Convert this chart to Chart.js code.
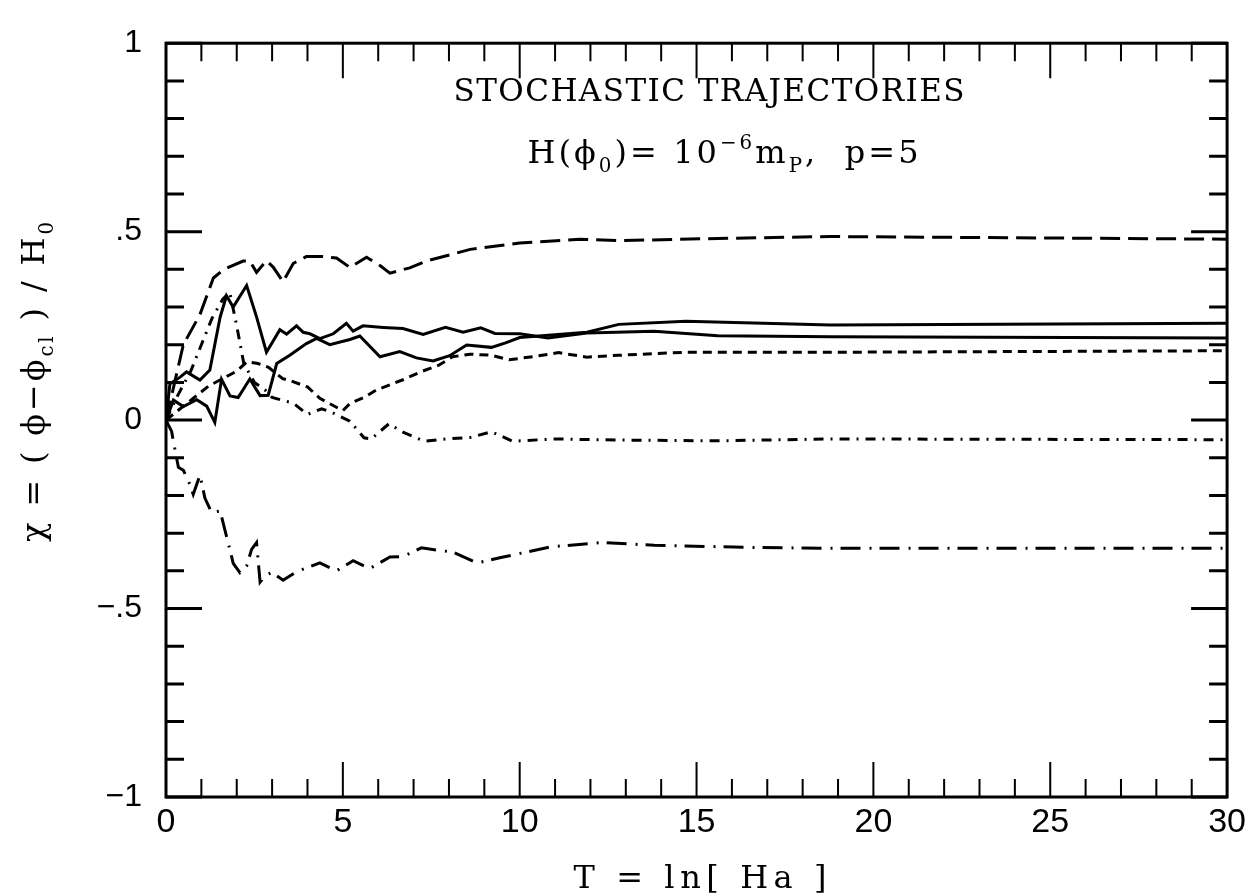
<!DOCTYPE html>
<html>
<head>
<meta charset="utf-8">
<script src="https://cdn.jsdelivr.net/npm/chart.js@4.4.1/dist/chart.umd.min.js"></script>
<style>
  html, body { margin: 0; padding: 0; background: #fff; }
  #wrap { width: 1251px; height: 895px; }
</style>
</head>
<body>
<div id="wrap"><canvas id="trajChart" width="1251" height="895"></canvas></div>
<script>
// T = ln[Ha] samples and chi values, one pair of arrays per trajectory

// long dashed (top)
const tLongDash = [0, 0.49, 0.96, 1.34, 1.62, 2.18, 2.37, 2.56, 2.84, 3.03, 3.31, 3.6, 3.97, 4.44, 4.82, 5.2, 5.67, 6.05, 6.33, 6.89, 7.36, 7.93, 8.6, 10.0, 11.7, 12.8, 15.6, 18.8, 30];
const chiLongDash = [0, 0.2, 0.28, 0.377, 0.399, 0.422, 0.422, 0.392, 0.423, 0.406, 0.367, 0.416, 0.434, 0.434, 0.43, 0.405, 0.432, 0.41, 0.39, 0.404, 0.422, 0.436, 0.453, 0.47, 0.48, 0.476, 0.482, 0.487, 0.48];

// solid, the one with the big early peak
const tSolidA = [0, 0.11, 0.4, 0.58, 0.96, 1.24, 1.53, 1.71, 1.9, 2.28, 2.56, 2.84, 3.22, 3.41, 3.69, 3.88, 4.07, 4.35, 4.73, 5.1, 5.29, 5.57, 6.14, 6.7, 7.27, 7.9, 8.4, 8.9, 9.3, 10.0, 10.8, 11.9, 13.8, 15.6, 18.8, 30];
const chiSolidA = [0, 0.096, 0.114, 0.128, 0.106, 0.133, 0.273, 0.33, 0.3, 0.357, 0.274, 0.18, 0.24, 0.228, 0.25, 0.233, 0.229, 0.216, 0.229, 0.257, 0.236, 0.25, 0.246, 0.243, 0.227, 0.246, 0.233, 0.245, 0.23, 0.229, 0.218, 0.231, 0.236, 0.224, 0.221, 0.218];

// solid, the one starting low
const tSolidB = [0, 0.21, 0.49, 0.87, 1.15, 1.38, 1.57, 1.81, 2.04, 2.37, 2.66, 2.89, 3.13, 3.5, 3.97, 4.26, 4.63, 5.2, 5.48, 6.05, 6.61, 7.08, 7.55, 8.02, 8.5, 9.2, 9.6, 10.0, 10.9, 11.9, 12.8, 14.7, 18.8, 30];
const chiSolidB = [0, 0.053, 0.036, 0.054, 0.037, -0.006, 0.108, 0.064, 0.06, 0.109, 0.065, 0.066, 0.15, 0.172, 0.203, 0.217, 0.2, 0.214, 0.223, 0.168, 0.182, 0.165, 0.157, 0.171, 0.199, 0.193, 0.205, 0.219, 0.226, 0.233, 0.254, 0.262, 0.252, 0.257];

// short dashed
const tShortDash = [0, 0.4, 0.8, 1.2, 1.6, 2.0, 2.3, 2.6, 2.9, 3.3, 3.5, 4.0, 4.35, 4.7, 5.0, 5.2, 5.6, 5.95, 6.7, 7.2, 7.7, 8.1, 8.6, 9.2, 9.7, 10.5, 11.1, 11.9, 12.8, 14.7, 18.8, 30];
const chiShortDash = [0, 0.03, 0.06, 0.09, 0.11, 0.13, 0.155, 0.15, 0.14, 0.11, 0.105, 0.088, 0.058, 0.04, 0.025, 0.044, 0.06, 0.08, 0.107, 0.128, 0.145, 0.168, 0.175, 0.172, 0.16, 0.17, 0.179, 0.167, 0.172, 0.18, 0.18, 0.184];

// dash-dot, ends just below zero
const tDashDot = [0, 0.3, 0.7, 1.0, 1.3, 1.6, 1.8, 2.0, 2.2, 2.5, 2.8, 3.0, 3.6, 4.0, 4.4, 4.7, 5.2, 5.6, 5.8, 6.3, 6.7, 7.3, 7.9, 8.6, 9.2, 9.8, 11.0, 12.8, 15.6, 18.8, 30];
const chiDashDot = [0, 0.06, 0.13, 0.2, 0.27, 0.32, 0.34, 0.25, 0.15, 0.1, 0.08, 0.06, 0.045, 0.015, 0.03, 0.02, -0.003, -0.047, -0.05, -0.01, -0.032, -0.056, -0.05, -0.046, -0.031, -0.056, -0.05, -0.053, -0.055, -0.05, -0.052];

// long dash-dot (bottom)
const tLongDashDot = [0, 0.16, 0.2, 0.35, 0.49, 0.68, 0.77, 0.96, 1.1, 1.29, 1.53, 1.67, 1.81, 1.9, 2.09, 2.28, 2.42, 2.56, 2.66, 2.8, 2.99, 3.31, 3.69, 4.35, 4.82, 5.29, 5.76, 6.33, 6.7, 7.22, 7.83, 8.1, 8.8, 9.5, 10.9, 12.3, 13.8, 16.6, 18.8, 30];
const chiLongDashDot = [0, -0.03, -0.052, -0.125, -0.133, -0.172, -0.197, -0.146, -0.207, -0.245, -0.241, -0.293, -0.345, -0.38, -0.405, -0.387, -0.343, -0.325, -0.43, -0.413, -0.404, -0.425, -0.402, -0.379, -0.4, -0.373, -0.394, -0.363, -0.362, -0.339, -0.347, -0.35, -0.379, -0.364, -0.336, -0.325, -0.332, -0.338, -0.34, -0.34];

const xMajor = [0, 5, 10, 15, 20, 25, 30];
const xTickLabels = ['0', '5', '10', '15', '20', '25', '30'];
const yMajor = [1, 0.5, 0, -0.5, -1];
const yTickLabels = ['1', '.5', '0', '\u2212.5', '\u22121'];

const SERIF = '"DejaVu Serif", serif';
const SANS = '"Liberation Sans", Arial, sans-serif';

function pairs(ts, vs) {
  return ts.map((t, i) => ({ x: t, y: vs[i] }));
}

function isMajor(list, v) {
  return list.some(m => Math.abs(m - v) < 1e-6);
}

// draws a string made of [text, kind] pieces (kind 0 normal, 1 subscript, 2 superscript),
// spread out so it covers `target` pixels, centred on cx
function drawRich(ctx, segs, cx, baseY, target, size) {
  const chars = [];
  segs.forEach(([text, kind]) => {
    const fs = kind ? size * 0.62 : size;
    const dy = kind === 1 ? size * 0.28 : kind === 2 ? -size * 0.45 : 0;
    for (const ch of text) chars.push({ ch, fs, dy });
  });
  let natural = 0;
  chars.forEach(c => {
    ctx.font = c.fs + 'px ' + SERIF;
    c.w = ctx.measureText(c.ch).width;
    natural += c.w;
  });
  const extra = target ? (target - natural) / (chars.length - 1) : 0;
  let x = cx - (natural + extra * (chars.length - 1)) / 2;
  chars.forEach(c => {
    ctx.font = c.fs + 'px ' + SERIF;
    ctx.fillText(c.ch, x, baseY + c.dy);
    x += c.w + extra;
  });
}

// box round the plot with ticks pointing inwards on all four sides
const frameTicks = {
  id: 'frameTicks',
  afterDatasetsDraw(chart) {
    const { ctx, chartArea: a, scales: { x, y } } = chart;
    ctx.save();
    ctx.strokeStyle = '#000';
    ctx.lineWidth = 3;
    ctx.strokeRect(a.left, a.top, a.right - a.left, a.bottom - a.top);
    ctx.lineWidth = 2;
    x.ticks.forEach(t => {
      const px = x.getPixelForValue(t.value);
      const len = isMajor(xMajor, t.value) ? 35 : 18;
      ctx.beginPath();
      ctx.moveTo(px, a.bottom); ctx.lineTo(px, a.bottom - len);
      ctx.moveTo(px, a.top); ctx.lineTo(px, a.top + len);
      ctx.stroke();
    });
    ctx.lineWidth = 3;
    y.ticks.forEach(t => {
      const py = y.getPixelForValue(t.value);
      const len = isMajor(yMajor, t.value) ? 36 : 18;
      ctx.beginPath();
      ctx.moveTo(a.left, py); ctx.lineTo(a.left + len, py);
      ctx.moveTo(a.right, py); ctx.lineTo(a.right - len, py);
      ctx.stroke();
    });
    ctx.restore();
  }
};

const labels = {
  id: 'labels',
  afterDraw(chart) {
    const ctx = chart.ctx;
    ctx.save();
    ctx.fillStyle = '#000';
    ctx.textBaseline = 'alphabetic';
    ctx.textAlign = 'left';
    drawRich(ctx, [['STOCHASTIC TRAJECTORIES', 0]], 709, 101, 511, 31);
    drawRich(ctx, [['H(\u03d5', 0], ['0', 1], [')= 10', 0], ['\u22126', 2], ['m', 0], ['P', 1], [',  p=5', 0]], 723, 163, 391, 32);
    drawRich(ctx, [['T = ln[ Ha ]', 0]], 700, 888, 253, 32);
    ctx.translate(44, 382);
    ctx.rotate(-Math.PI / 2);
    drawRich(ctx, [['\u03c7 = ( \u03d5\u2212\u03d5', 0], ['cl', 1], [' ) / H', 0], ['0', 1]], 0, 0, 320, 32);
    ctx.restore();
  }
};

function line(ts, vs, dash) {
  return {
    data: pairs(ts, vs),
    borderColor: '#000',
    borderWidth: 3,
    borderDash: dash,
    pointRadius: 0,
    tension: 0,
    fill: false
  };
}

new Chart(document.getElementById('trajChart'), {
  type: 'line',
  data: {
    datasets: [
      line(tLongDash, chiLongDash, [20, 8]),
      line(tSolidA, chiSolidA, []),
      line(tSolidB, chiSolidB, []),
      line(tShortDash, chiShortDash, [9, 6]),
      line(tDashDot, chiDashDot, [10, 7, 2, 7]),
      line(tLongDashDot, chiLongDashDot, [20, 9, 2, 8])
    ]
  },
  options: {
    responsive: false,
    animation: false,
    layout: { padding: { top: 33, right: 22, left: 0, bottom: 0 } },
    plugins: { legend: { display: false }, tooltip: { enabled: false } },
    scales: {
      x: {
        type: 'linear',
        min: 0,
        max: 30,
        grid: { display: false, drawTicks: false },
        border: { display: false },
        ticks: {
          stepSize: 1,
          autoSkip: false,
          maxRotation: 0,
          padding: 5,
          color: '#000',
          font: { family: SANS, size: 34 },
          callback: v => {
            const i = xMajor.findIndex(m => Math.abs(m - v) < 1e-6);
            return i >= 0 ? xTickLabels[i] : '';
          }
        },
        afterFit: s => { s.height = 98; }
      },
      y: {
        min: -1,
        max: 1,
        grid: { display: false, drawTicks: false },
        border: { display: false },
        ticks: {
          stepSize: 0.1,
          autoSkip: false,
          padding: 24,
          color: '#000',
          font: { family: SANS, size: 32 },
          callback: v => {
            const i = yMajor.findIndex(m => Math.abs(m - v) < 1e-6);
            return i >= 0 ? yTickLabels[i] : '';
          }
        },
        afterFit: s => { s.width = 166; }
      }
    }
  },
  plugins: [frameTicks, labels]
});
</script>
</body>
</html>
